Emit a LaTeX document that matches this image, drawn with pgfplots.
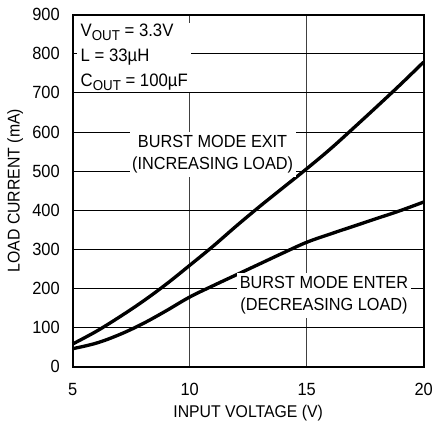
\documentclass[border=0pt]{standalone}
\usepackage{fontspec}
\setmainfont{Liberation Sans}[FakeStretch=0.93]
\usepackage{pgfplots}
\pgfplotsset{compat=1.18}
\pgfplotsset{
  layers/mylayers/.define layer set={axis background,axis grid,boxes,axis ticks,axis lines,axis tick labels,main,axis descriptions,axis foreground}{},
}
\newcommand{\sub}[1]{\raisebox{-2.3pt}{\fontsize{8.6}{10}\selectfont #1}}
\begin{document}
\begin{tikzpicture}
\begin{axis}[
  name=ax,
  set layers=mylayers,
  scale only axis,
  width=210.6pt, height=211.2pt,
  xmin=5, xmax=20, ymin=0, ymax=900,
  xtick={5,10,15,20}, ytick={0,100,...,900},
  grid=major,
  x grid style={black!75, line width=0.6pt},
  y grid style={black, line width=0.6pt},
  axis line style={black, line width=1.1pt},
  tick style={draw=none},
  /pgf/number format/assume math mode=true,
  ticklabel style={font=\fontsize{10.6}{12}\selectfont},
  xticklabel style={yshift=-6.5pt},
  yticklabel style={xshift=-4.2pt},
  label style={font=\fontsize{10.2}{12}\selectfont},
  xlabel={INPUT VOLTAGE (V)},
  ylabel={LOAD CURRENT (mA)},
  xlabel style={at={(axis description cs:0.5,-0.132)}, anchor=center},
  ylabel style={at={(axis description cs:-0.164,0.5)}, anchor=center},
  clip=false,
]
\addplot[black, line width=2pt, smooth, tension=0.6] coordinates {
  (5,58) (6,90) (7,127) (8,167) (9,211) (10,259) (11,308) (12,360)
  (13,410) (14,458) (15,506) (16,556) (17,610) (18,665) (19,721) (20,779)
};
\addplot[black, line width=2pt, smooth, tension=0.6] coordinates {
  (5,46) (6,60) (7,82) (8,110) (9,143) (10,178) (11,207) (12,235)
  (13,263) (14,291) (15,318) (16,339) (17,359) (18,379) (19,399) (20,421)
};
\node[on layer=boxes, fill=white, anchor=north west, align=left,
  inner xsep=2.2pt, inner ysep=0.6pt,
  font=\fontsize{10.8}{15}\selectfont]
  at ([xshift=2.4pt,yshift=-4.8pt]rel axis cs:0,1)
  {V\sub{OUT} = 3.3V\\ L = 33µH\\ C\sub{OUT} = 100µF};
\node[on layer=boxes, fill=white, align=center, inner xsep=1.5pt, inner ysep=2pt,
  font=\fontsize{10.5}{13.2}\selectfont]
  at (axis cs:10.98,543) {BURST MODE EXIT\\(INCREASING LOAD)};
\node[on layer=boxes, fill=white, align=center, inner xsep=1.5pt, inner ysep=2pt,
  font=\fontsize{10.5}{13.2}\selectfont]
  at (axis cs:15.74,182.6) {BURST MODE ENTER\\(DECREASING LOAD)};
\end{axis}
\path (ax.south west) ++(-43.6pt,-32.6pt) rectangle ++(264.6pt,252.6pt);
\end{tikzpicture}
\end{document}
